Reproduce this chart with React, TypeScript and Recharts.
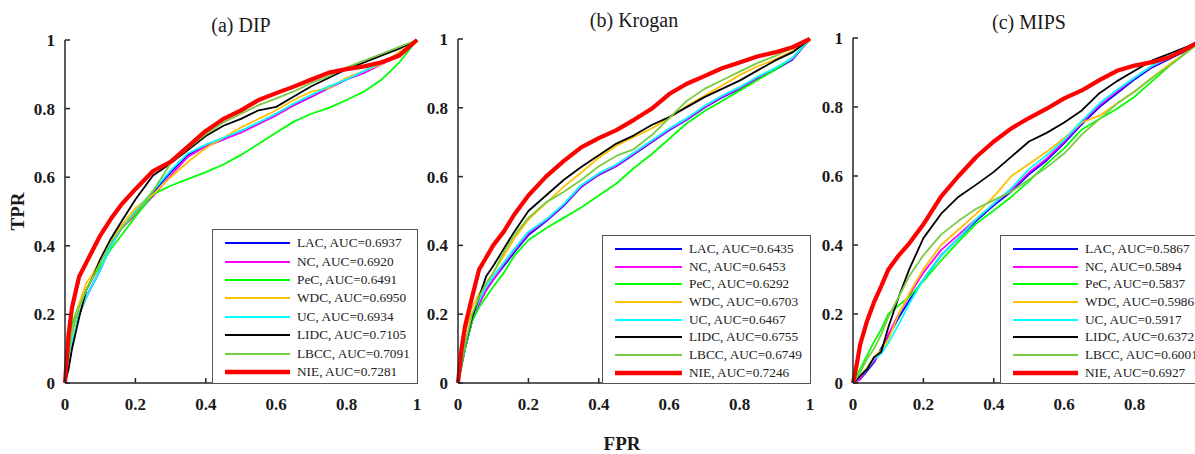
import { LineChart, Line, XAxis, YAxis, Legend, Label } from "recharts";

const SERIF = '"Liberation Serif", "Times New Roman", serif';
const INK = "#262626";

const fpr = [0, 0.01, 0.02, 0.04, 0.06, 0.08, 0.1, 0.13, 0.16, 0.2, 0.25, 0.3, 0.35, 0.4, 0.45, 0.5, 0.55, 0.6, 0.65, 0.7, 0.75, 0.8, 0.85, 0.9, 0.95, 1];
const ticks = [0, 0.2, 0.4, 0.6, 0.8, 1];

const methods = ["LAC", "NC", "PeC", "WDC", "UC", "LIDC", "LBCC", "NIE"];
const colors = ["#0000ff", "#ff00ff", "#00ff00", "#ffc000", "#00ffff", "#000000", "#77cc44", "#ff0000"];
const widths = [1.8, 1.8, 1.8, 1.8, 1.8, 1.8, 1.8, 4.2];

// (a) DIP
const dipLAC = [0, .05, .11, .2, .25, .29, .33, .40, .45, .5, .555, .615, .665, .69, .71, .735, .755, .785, .81, .835, .86, .885, .905, .93, .955, 1];
const dipNC = [0, .05, .11, .2, .25, .29, .33, .40, .45, .49, .545, .605, .66, .69, .71, .73, .755, .78, .81, .835, .86, .885, .905, .93, .955, 1];
const dipPeC = [0, .08, .17, .23, .27, .31, .34, .39, .43, .485, .55, .575, .595, .615, .637, .665, .697, .73, .762, .785, .802, .825, .85, .885, .935, 1];
const dipWDC = [0, .07, .14, .23, .29, .32, .36, .42, .46, .51, .55, .60, .645, .685, .715, .745, .77, .795, .825, .85, .86, .89, .91, .93, .965, 1];
const dipUC = [0, .06, .12, .2, .25, .29, .33, .40, .45, .5, .56, .62, .67, .695, .715, .735, .76, .785, .815, .84, .865, .885, .91, .935, .96, 1];
const dipLIDC = [0, .04, .1, .19, .27, .31, .36, .42, .47, .535, .605, .64, .68, .72, .75, .77, .795, .805, .835, .865, .89, .915, .935, .955, .975, 1];
const dipLBCC = [0, .08, .15, .22, .27, .31, .35, .41, .45, .495, .56, .64, .685, .725, .76, .785, .81, .83, .85, .875, .895, .92, .94, .96, .98, 1];
const dipNIE = [0, .14, .22, .31, .35, .39, .43, .478, .52, .565, .618, .645, .69, .735, .77, .795, .825, .845, .864, .885, .905, .915, .923, .935, .955, 1];
const dipAuc = ["0.6937", "0.6920", "0.6491", "0.6950", "0.6934", "0.7105", "0.7091", "0.7281"];

// (b) Krogan
const kroLAC = [0, .05, .10, .18, .23, .27, .30, .34, .38, .43, .47, .515, .57, .605, .63, .665, .70, .735, .765, .80, .83, .855, .885, .91, .94, 1];
const kroNC = [0, .05, .10, .18, .23, .27, .30, .345, .385, .435, .473, .518, .572, .607, .632, .667, .702, .737, .767, .802, .832, .857, .887, .912, .942, 1];
const kroPeC = [0, .05, .10, .18, .22, .25, .28, .32, .37, .415, .45, .48, .51, .545, .58, .625, .665, .71, .755, .79, .82, .85, .88, .91, .945, 1];
const kroWDC = [0, .07, .14, .22, .26, .29, .32, .37, .42, .475, .523, .57, .612, .655, .69, .715, .74, .77, .805, .835, .865, .895, .92, .94, .965, 1];
const kroUC = [0, .06, .11, .19, .24, .28, .31, .35, .39, .44, .475, .52, .575, .61, .635, .67, .705, .74, .77, .805, .835, .86, .89, .915, .945, 1];
const kroLIDC = [0, .06, .11, .19, .25, .31, .34, .39, .44, .50, .545, .59, .628, .662, .696, .72, .75, .773, .802, .831, .855, .879, .908, .937, .961, 1];
const kroLBCC = [0, .06, .11, .2, .25, .29, .32, .38, .43, .48, .525, .555, .59, .63, .66, .68, .72, .77, .82, .855, .88, .905, .93, .95, .975, 1];
const kroNIE = [0, .10, .165, .25, .33, .365, .40, .44, .49, .545, .60, .645, .685, .712, .735, .765, .797, .84, .87, .892, .915, .932, .949, .961, .976, 1];
const kroAuc = ["0.6435", "0.6453", "0.6292", "0.6703", "0.6467", "0.6755", "0.6749", "0.7246"];

// (c) MIPS
const mipLAC = [0, .005, .01, .035, .06, .10, .135, .19, .24, .30, .37, .42, .47, .515, .555, .605, .645, .695, .75, .80, .84, .88, .915, .94, .965, 1];
const mipNC = [0, .005, .012, .04, .065, .09, .14, .20, .255, .32, .385, .43, .475, .52, .56, .61, .65, .70, .755, .805, .845, .885, .918, .943, .968, 1];
const mipPeC = [0, .02, .04, .08, .12, .155, .20, .225, .25, .295, .355, .41, .462, .50, .54, .585, .635, .68, .735, .765, .795, .83, .875, .92, .96, 1];
const mipWDC = [0, .01, .02, .045, .075, .095, .125, .20, .26, .33, .40, .445, .49, .54, .60, .635, .67, .71, .755, .775, .81, .845, .885, .925, .96, 1];
const mipUC = [0, .01, .02, .04, .07, .085, .115, .17, .23, .30, .37, .42, .475, .52, .565, .62, .66, .705, .76, .81, .85, .885, .92, .945, .97, 1];
const mipLIDC = [0, .01, .02, .04, .075, .09, .16, .25, .33, .42, .49, .54, .575, .612, .656, .70, .725, .755, .79, .84, .875, .905, .935, .955, .975, 1];
const mipLBCC = [0, .015, .03, .07, .10, .14, .19, .25, .31, .37, .43, .47, .505, .53, .555, .59, .625, .665, .72, .765, .81, .845, .885, .92, .96, 1];
const mipNIE = [0, .05, .11, .18, .235, .28, .328, .37, .405, .46, .54, .60, .655, .70, .738, .768, .795, .825, .848, .878, .905, .92, .93, .945, .97, 1];
const mipAuc = ["0.5867", "0.5894", "0.5837", "0.5986", "0.5917", "0.6372", "0.6001", "0.6927"];

const toPoints = (tpr: number[]) => fpr.map((x, i) => ({ x, y: tpr[i] }));

type LegendSpec = { x: number; y: number; w: number; h: number; rowH: number; padTop: number; lineLen: number };

const panels = [
  {
    key: "dip",
    left: 0,
    width: 430,
    margin: { top: 40, right: 13, bottom: 41, left: 35 },
    title: "(a) DIP",
    titleY: 32,
    series: [dipLAC, dipNC, dipPeC, dipWDC, dipUC, dipLIDC, dipLBCC, dipNIE],
    auc: dipAuc,
    legend: { x: 212, y: 229, w: 206, h: 155, rowH: 18.4, padTop: 4, lineLen: 65 },
    tprLabel: true,
    fprLabel: false,
  },
  {
    key: "krogan",
    left: 420,
    width: 400,
    margin: { top: 39, right: 10, bottom: 41, left: 8 },
    title: "(b) Krogan",
    titleY: 27,
    series: [kroLAC, kroNC, kroPeC, kroWDC, kroUC, kroLIDC, kroLBCC, kroNIE],
    auc: kroAuc,
    legend: { x: 182, y: 235, w: 209, h: 149, rowH: 17.7, padTop: 4.2, lineLen: 67 },
    tprLabel: false,
    fprLabel: true,
  },
  {
    key: "mips",
    left: 810,
    width: 410,
    margin: { top: 38, right: 15, bottom: 41, left: 13 },
    title: "(c) MIPS",
    titleY: 29,
    series: [mipLAC, mipNC, mipPeC, mipWDC, mipUC, mipLIDC, mipLBCC, mipNIE],
    auc: mipAuc,
    legend: { x: 190, y: 235, w: 206, h: 149, rowH: 17.7, padTop: 4.2, lineLen: 65 },
    tprLabel: false,
    fprLabel: false,
  },
];

function LegendBox({ spec, auc }: { spec: LegendSpec; auc: string[] }) {
  return (
    <div
      style={{
        boxSizing: "border-box",
        width: spec.w,
        height: spec.h,
        border: "1.3px solid #555",
        background: "#fff",
        paddingTop: spec.padTop,
        fontFamily: SERIF,
        fontSize: 13.3,
        color: "#222",
      }}
    >
      {methods.map((m, i) => (
        <div key={m} style={{ height: spec.rowH, display: "flex", alignItems: "center", whiteSpace: "nowrap" }}>
          <svg width={spec.lineLen + 19} height={8} style={{ flex: "none" }}>
            <line x1={12} x2={12 + spec.lineLen} y1={4} y2={4} stroke={colors[i]} strokeWidth={widths[i] === 1.8 ? 2.2 : 4.5} />
          </svg>
          <span>{`${m}, AUC=${auc[i]}`}</span>
        </div>
      ))}
    </div>
  );
}

const tickStyle = { fill: "#1a1a1a", fontSize: 17, fontWeight: "bold", fontFamily: SERIF };
const noLabel = () => <g />;

export default function App() {
  return (
    <div style={{ position: "relative", width: 1195, height: 454, overflow: "hidden", background: "#fff" }}>
      <style>{"body{margin:0}"}</style>
      {panels.map((p) => (
        <div key={p.key} style={{ position: "absolute", left: p.left, top: 0 }}>
          <LineChart width={p.width} height={454} margin={p.margin}>
            <XAxis
              xAxisId="b"
              type="number"
              dataKey="x"
              domain={[0, 1]}
              ticks={ticks}
              height={30}
              stroke={INK}
              strokeWidth={1.5}
              tickSize={-5}
              tickMargin={20}
              tick={tickStyle}
            >
              <Label
                content={(lp: any) => {
                  const vb = lp.viewBox || { x: 0, width: 0 };
                  return (
                    <g>
                      <text x={vb.x + vb.width / 2} y={p.titleY} textAnchor="middle" fontFamily={SERIF} fontSize={20} fill="#1a1a1a">
                        {p.title}
                      </text>
                      {p.fprLabel && (
                        <text x={vb.x + vb.width / 2 - 12} y={450} textAnchor="middle" fontFamily={SERIF} fontWeight="bold" fontSize={19} fill="#1a1a1a">
                          FPR
                        </text>
                      )}
                    </g>
                  );
                }}
              />
            </XAxis>
            <XAxis
              xAxisId="t"
              orientation="top"
              type="number"
              domain={[0, 1]}
              ticks={ticks}
              height={0}
              stroke={INK}
              strokeWidth={1.5}
              tickSize={-5}
              tick={noLabel}
            />
            <YAxis
              yAxisId="l"
              type="number"
              domain={[0, 1]}
              ticks={ticks}
              width={30}
              stroke={INK}
              strokeWidth={1.5}
              tickSize={-5}
              tickMargin={15}
              tick={tickStyle}
            >
              {p.tprLabel && (
                <Label
                  content={(lp: any) => {
                    const vb = lp.viewBox || { y: 0, height: 0 };
                    const cy = vb.y + vb.height / 2;
                    return (
                      <text x={17} y={cy} transform={`rotate(-90 17 ${cy})`} textAnchor="middle" dominantBaseline="central" fontFamily={SERIF} fontWeight="bold" fontSize={19} fill="#1a1a1a">
                        TPR
                      </text>
                    );
                  }}
                />
              )}
            </YAxis>
            <YAxis
              yAxisId="r"
              orientation="right"
              type="number"
              domain={[0, 1]}
              ticks={ticks}
              width={0}
              stroke={INK}
              strokeWidth={1.5}
              tickSize={-5}
              tick={noLabel}
            />
            {p.series.map((s, i) => (
              <Line
                key={methods[i]}
                xAxisId="b"
                yAxisId="l"
                data={toPoints(s)}
                dataKey="y"
                name={methods[i]}
                type="linear"
                stroke={colors[i]}
                strokeWidth={widths[i]}
                strokeLinejoin="round"
                dot={false}
                activeDot={false}
                isAnimationActive={false}
              />
            ))}
            <Legend
              layout="vertical"
              align="center"
              verticalAlign="middle"
              wrapperStyle={{ left: p.legend.x, top: p.legend.y, width: p.legend.w, height: p.legend.h }}
              content={() => <LegendBox spec={p.legend} auc={p.auc} />}
            />
          </LineChart>
        </div>
      ))}
    </div>
  );
}
